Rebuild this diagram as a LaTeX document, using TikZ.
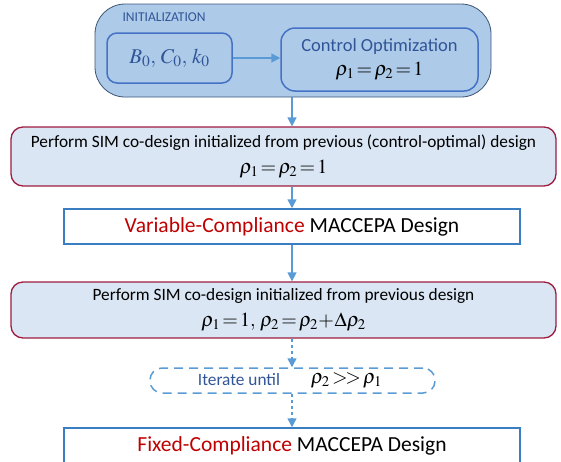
\documentclass[tikz,border=0pt]{standalone}
\usepackage{mathptmx}
\usepackage[no-math]{fontspec}
\setmainfont{Carlito}
\usepackage{xcolor}
\usepackage{tikz}
\usetikzlibrary{arrows.meta}
\definecolor{initfill}{HTML}{AECAE9}
\definecolor{initline}{HTML}{3B5575}
\definecolor{innerline}{HTML}{4472C4}
\definecolor{bluetext}{HTML}{2F5597}
\definecolor{stepfill}{HTML}{DAE6F4}
\definecolor{stepline}{HTML}{9E1C3F}
\definecolor{outline}{HTML}{3A7DC0}
\definecolor{flow}{HTML}{5B9BD5}
\definecolor{hot}{HTML}{C00000}
\tikzset{
  initbox/.style={draw=initline, fill=initfill, line width=0.8pt, rounded corners=30pt},
  inner/.style={draw=innerline, fill=initfill, line width=1.5pt, text=bluetext, align=center},
  stepbox/.style={draw=stepline, fill=stepfill, line width=1.3pt, rounded corners=12pt,
    minimum width=545pt, align=center, font=\fontsize{17.3}{20}\selectfont},
  outbox/.style={draw=outline, fill=white, line width=1.5pt, minimum width=456pt,
    font=\fontsize{21.5}{24}\selectfont},
  iterbox/.style={draw=flow, line width=1.5pt, dash pattern=on 9pt off 6pt, rounded corners=12pt,
    minimum width=285pt, minimum height=25pt},
  flowarr/.style={draw=flow, line width=1.5pt, -{Triangle[width=9pt,length=9pt]}},
  dotarr/.style={flowarr, dash pattern=on 3pt off 3pt},
}
\newcommand{\mathsz}{\fontsize{20}{22}\selectfont}

\begin{document}
\begin{tikzpicture}[x=1pt,y=-1pt]
  \useasboundingbox (0,0) rectangle (561,461);
  % initialization
  \node[initbox, minimum width=396pt, minimum height=93pt] (init) at (293,50.5) {};
  \node[text=bluetext, anchor=west, font=\fontsize{13.5}{15}\selectfont] (initlab) at (119,17) {INITIALIZATION};
  \node[inner, rounded corners=10pt, minimum width=125pt, minimum height=50pt] (b0) at (169.5,58)
    {\fontsize{21}{23}\selectfont $B_0,\,C_0,\,k_0$};
  \node[inner, rounded corners=14pt, minimum width=197pt, minimum height=63pt] (ctrl) at (379.5,59.5)
    {\fontsize{18.5}{20}\selectfont Control Optimization\\[7pt] \textcolor{black}{\mathsz $\rho_1\!=\!\rho_2\!=\!1$}};
  % co-design steps
  \node[stepbox, minimum height=59pt] (step1) at (283.5,156.5)
    {Perform SIM co-design initialized from previous (control-optimal) design\\[6pt]
     {\mathsz $\rho_1\!=\!\rho_2\!=\!1$}};
  \node[outbox, minimum height=35pt] (vc) at (292,226.5)
    {\textcolor{hot}{Variable-Compliance} MACCEPA Design};
  \node[stepbox, minimum height=56pt] (step2) at (283.5,310)
    {Perform SIM co-design initialized from previous design\\[6pt]
     {\mathsz $\rho_1\!=\!1,\,\rho_2\!=\!\rho_2\!+\!\Delta\rho_2$}};
  \node[iterbox] (iter) at (292.5,380.5) {};
  \node[text=bluetext, font=\fontsize{17.3}{19}\selectfont] (itlab) at (239,380) {Iterate until};
  \node[font=\mathsz] (itcond) at (346.5,380) {$\rho_2\,{>}\!{>}\,\rho_1$};
  \node[outbox, minimum height=35pt] (fc) at (292,445.5)
    {\textcolor{hot}{Fixed-Compliance} MACCEPA Design};
  % connectors
  \draw[flowarr] (b0.east) -- (ctrl.west |- b0.east);
  \draw[flowarr] (init.south -| vc.north) -- (vc.north |- step1.north);
  \draw[flowarr] (step1.south -| vc.north) -- (vc.north);
  \draw[flowarr] (vc.south) -- (vc.south |- step2.north);
  \draw[dotarr] (step2.south -| vc.north) -- (vc.north |- iter.north);
  \draw[dotarr] (iter.south -| fc.north) -- (fc.north);
\end{tikzpicture}
\end{document}
